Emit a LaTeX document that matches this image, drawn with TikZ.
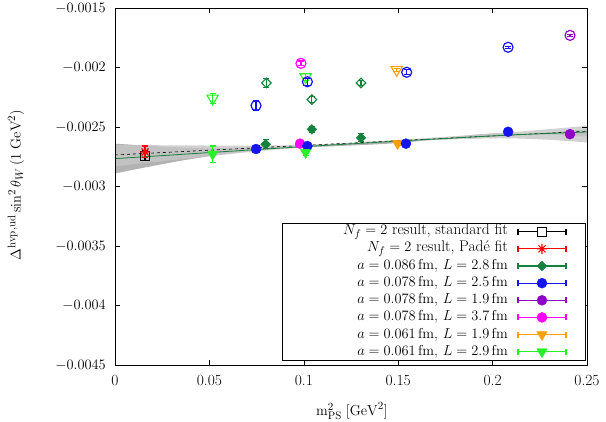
\documentclass[tikz,border=0pt]{standalone}
\usetikzlibrary{shapes.geometric}
\definecolor{dgreen}{RGB}{20,130,60}
\definecolor{mblue}{RGB}{20,20,240}
\definecolor{mpurple}{RGB}{145,0,200}
\definecolor{mmag}{RGB}{255,0,255}
\definecolor{morange}{RGB}{255,160,0}
\definecolor{mlime}{RGB}{40,240,40}
\tikzset{
 fc/.style={circle,fill=#1,draw=#1,inner sep=0pt,minimum size=10pt},
 oc/.style={circle,draw=#1,line width=1.2pt,inner sep=0pt,minimum size=10pt},
 fd/.style={diamond,fill=#1,draw=#1,inner sep=0pt,minimum size=10pt},
 od/.style={diamond,draw=#1,line width=1.1pt,inner sep=0pt,minimum size=10pt},
 ft/.style={regular polygon,regular polygon sides=3,shape border rotate=180,fill=#1,draw=#1,inner sep=0pt,minimum size=12pt},
 ot/.style={regular polygon,regular polygon sides=3,shape border rotate=180,draw=#1,line width=1.1pt,inner sep=0pt,minimum size=13pt},
 eb/.style={draw=#1,line width=1.1pt},
 lab/.style={font=\fontsize{15.5}{18}\selectfont}
}
\newcommand\mk[5]{%
 \draw[eb=#2] (#3,#4-#5) ++(-3pt,0)--++(6pt,0) (#3,#4-#5)--(#3,#4+#5) ++(-3pt,0)--++(6pt,0);
 \node[#1=#2] at (#3,#4) {};}
\newcommand\astr[1]{\draw[red,line width=1.1pt] (#1) ++(-5pt,0)--++(10pt,0) (#1) ++(-3.5pt,-3.5pt)--++(7pt,7pt) (#1) ++(-3.5pt,3.5pt)--++(7pt,-7pt) (#1) ++(0,-5pt)--++(0,10pt);}
\begin{document}
\begin{tikzpicture}[x=1pt,y=1pt]
\useasboundingbox (0,0) rectangle (606,421);
\begin{scope}[shift={(115pt,591.5pt)},x=1888pt,y=11.9pt]
% bands
\fill[gray!75,opacity=0.8] plot[smooth] coordinates {(0,-26.4)(0.04,-26.75)(0.08,-26.7)(0.15,-26.2)(0.2,-25.8)(0.25,-25.2)}
 -- plot[smooth] coordinates {(0.25,-25.8)(0.2,-25.55)(0.15,-26.35)(0.08,-26.9)(0.04,-27.7)(0,-28.9)} -- cycle;
\fill[gray!45,opacity=0.8] plot[smooth] coordinates {(0,-26.5)(0.1,-26.5)(0.2,-25.55)(0.25,-24.9)}
 -- plot[smooth] coordinates {(0.25,-26.3)(0.2,-25.95)(0.1,-26.7)(0,-28.3)} -- cycle;
\draw[black,dashed,line width=0.6pt] plot[smooth] coordinates {(0,-27.35)(0.1,-26.55)(0.2,-25.75)(0.25,-25.35)};
\draw[dgreen,line width=0.8pt] plot[smooth] coordinates {(0,-27.66)(0.1,-26.65)(0.2,-25.75)(0.25,-25.42)};
% frame and ticks
\draw[line width=0.6pt] (0,-45) rectangle (0.25,-15);
\foreach \t/\l in {0/0,0.05/0.05,0.1/0.1,0.15/0.15,0.2/0.2,0.25/0.25}{
 \draw (\t,-45)--++(0,5pt) (\t,-15)--++(0,-5pt);
 \node[lab,anchor=north] at (\t,-45.6) {\l};}
\foreach \v/\l in {-15/-0.0015,-20/-0.002,-25/-0.0025,-30/-0.003,-35/-0.0035,-40/-0.004,-45/-0.0045}{
 \draw (0,\v)--++(5pt,0) (0.25,\v)--++(-5pt,0);
 \node[lab,anchor=east] at (-0.003,\v) {$\l$};}
% open points
\mk{ot}{mlime}{0.0517}{-22.6}{0.4}
\mk{oc}{mblue}{0.0747}{-23.2}{0.4}
\mk{od}{dgreen}{0.0802}{-21.3}{0.36}
\mk{oc}{mmag}{0.0985}{-19.65}{0.2}
\mk{ot}{mlime}{0.101}{-20.8}{0.3}
\mk{oc}{mblue}{0.1019}{-21.2}{0.3}
\mk{od}{dgreen}{0.1043}{-22.7}{0.25}
\mk{od}{dgreen}{0.1303}{-21.3}{0.2}
\mk{ot}{morange}{0.1492}{-20.2}{0.1}
\mk{oc}{mblue}{0.1545}{-20.4}{0.2}
\mk{oc}{mblue}{0.2082}{-18.3}{0.1}
\mk{oc}{mpurple}{0.241}{-17.3}{0.1}
% filled points
\mk{ft}{mlime}{0.0517}{-27.3}{0.7}
\mk{fc}{mblue}{0.0747}{-26.85}{0.21}
\mk{fd}{dgreen}{0.0798}{-26.45}{0.39}
\mk{fc}{mmag}{0.098}{-26.4}{0.3}
\mk{fc}{mblue}{0.1019}{-26.6}{0.25}
\mk{ft}{mlime}{0.101}{-27.15}{0.25}
\mk{fd}{dgreen}{0.1043}{-25.2}{0.25}
\mk{fd}{dgreen}{0.1303}{-25.9}{0.35}
\mk{ft}{morange}{0.1497}{-26.4}{0.15}
\mk{fc}{mblue}{0.1541}{-26.4}{0.2}
\mk{fc}{mblue}{0.2082}{-25.4}{0.15}
\mk{fc}{mpurple}{0.241}{-25.6}{0.2}
% result
\draw[eb=black] (0.0159,-27.85) ++(-3pt,0)--++(6pt,0) (0.0159,-27.85)--(0.0159,-27.0) ++(-3pt,0)--++(6pt,0);
\node[draw,line width=1pt,inner sep=0pt,minimum size=9pt] at (0.0159,-27.45) {};
\draw[eb=red] (0.0159,-27.6) ++(-3pt,0)--++(6pt,0) (0.0159,-27.6)--(0.0159,-26.6) ++(-3pt,0)--++(6pt,0);
\coordinate (rs) at (0.0159,-27.1);
\astr{rs}
\end{scope}
% legend
\draw[fill=white,line width=0.6pt] (282,61) rectangle (585,198);
\foreach \i/\t/\c in {
 0/{$N_f=2$ result, standard fit}/black,
 1/{$N_f=2$ result, Pad\'e fit}/red,
 2/{$a=0.086\,\mathrm{fm}$, $L=2.8\,\mathrm{fm}$}/dgreen,
 3/{$a=0.078\,\mathrm{fm}$, $L=2.5\,\mathrm{fm}$}/mblue,
 4/{$a=0.078\,\mathrm{fm}$, $L=1.9\,\mathrm{fm}$}/mpurple,
 5/{$a=0.078\,\mathrm{fm}$, $L=3.7\,\mathrm{fm}$}/mmag,
 6/{$a=0.061\,\mathrm{fm}$, $L=1.9\,\mathrm{fm}$}/morange,
 7/{$a=0.061\,\mathrm{fm}$, $L=2.9\,\mathrm{fm}$}/mlime}{
 \pgfmathsetmacro\yy{421-231.7-\i*17.15}
 \node[lab,anchor=east,inner sep=0pt] (t\i) at (508,\yy) {\t};
 \draw[eb=\c] (518,\yy-3)--(518,\yy+3) (518,\yy)--(566,\yy) (566,\yy-3)--(566,\yy+3);
}
\node[draw,fill=white,line width=1pt,inner sep=0pt,minimum size=9pt] at (542,189.3) {};
\coordinate (ls) at (542,172.15);
\astr{ls}
\node[fd=dgreen] at (542,155) {};
\node[fc=mblue] at (542,137.85) {};
\node[fc=mpurple] at (542,120.7) {};
\node[fc=mmag] at (542,103.55) {};
\node[ft=morange] at (542,86.4) {};
\node[ft=mlime] at (542,69.25) {};
% axis labels
\node[lab] (xl) at (352,10) {$\mathrm{m}^2_{\mathrm{PS}}\;[\mathrm{GeV}^2]$};
\node[lab,rotate=90] (yl) at (16,236) {$\Delta^{\mathrm{hvp,ud}}\sin^2\theta_W\,(1\;\mathrm{GeV}^2)$};
\end{tikzpicture}
\end{document}
